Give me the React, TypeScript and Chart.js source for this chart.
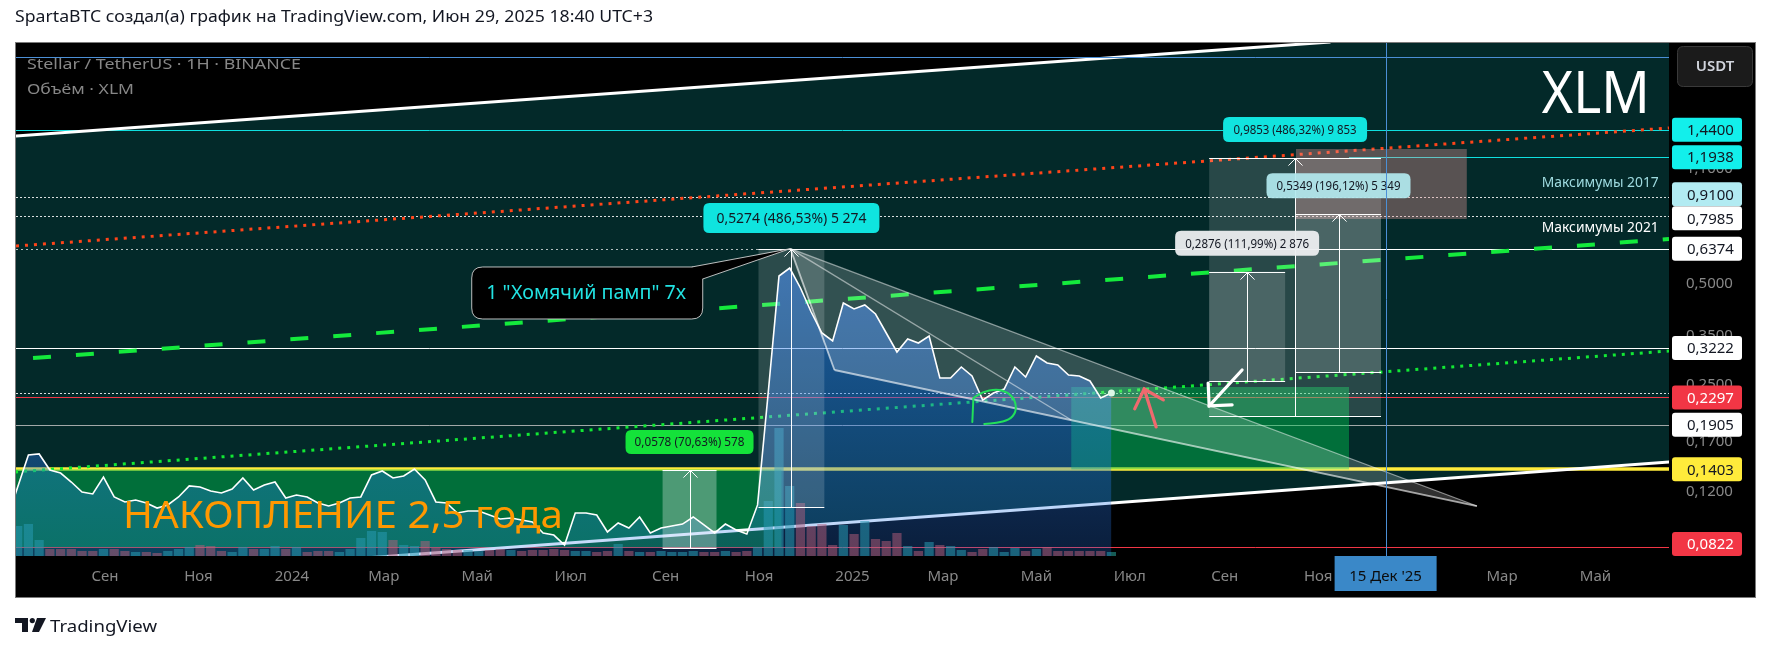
import React, { useEffect, useRef } from "react";
import { Chart, registerables } from "chart.js";

Chart.register(...registerables);

const W = 1771;
const H = 652;
const FONT = '"Noto Sans", "DejaVu Sans", sans-serif';

const TITLE = "SpartaBTC создал(а) график на TradingView.com, Июн 29, 2025 18:40 UTC+3";
const SYMBOL_LINE = "Stellar / TetherUS · 1H · BINANCE";
const VOLUME_LINE = "Объём · XLM";

// ---------- time axis: days since 2023-07-01 ----------
const X_MIN = 3.9;
const X_MAX = 1083;
const monthTickDays = [62, 123, 184, 244, 305, 366, 428, 489, 550, 609, 670, 731, 793, 854, 915, 974, 1035];
const monthTickLabels = ["Сен", "Ноя", "2024", "Мар", "Май", "Июл", "Сен", "Ноя", "2025", "Мар", "Май", "Июл", "Сен", "Ноя", "2026", "Мар", "Май"];

// ---------- price axis (log) ----------
const Y_MIN = 0.07743;
const Y_MAX = 2.6123;
const priceTickValues = [0.12, 0.17, 0.25, 0.35, 0.5, 1.1, 1.5];

// ---------- weekly series ----------
const FIRST_WEEK_DAY = -2;
const WEEK_DAYS = 7;
const weeklyClose = [
  0.0991,
  0.1243, 0.1548, 0.1559, 0.1397, 0.1368, 0.1286, 0.1201, 0.1185, 0.1331, 0.1161,
  0.1122, 0.1137, 0.1114, 0.1076, 0.1099, 0.1161, 0.1252, 0.1243, 0.1209, 0.1193,
  0.1226, 0.1322, 0.1218, 0.1260, 0.1286, 0.1153, 0.1177, 0.1161, 0.1114, 0.1091,
  0.1114, 0.1153, 0.1161, 0.1350, 0.1387, 0.1322, 0.1340, 0.1406, 0.1304, 0.1122,
  0.1114, 0.1040, 0.1054, 0.1054, 0.1026, 0.0998, 0.1005, 0.0991, 0.0978, 0.0907,
  0.0894, 0.0835, 0.1040, 0.1040, 0.1026, 0.0913, 0.0971, 0.0938, 0.1012, 0.0907,
  0.0938, 0.0951, 0.0964, 0.1012, 0.0958, 0.0907, 0.0964, 0.0926, 0.0900, 0.1099,
  0.2385, 0.5284, 0.5582, 0.4867, 0.4128, 0.3574, 0.3383, 0.4391, 0.4214, 0.4331,
  0.4072, 0.3574, 0.3138, 0.3430, 0.3337, 0.3502, 0.2625, 0.2625, 0.2831, 0.2662,
  0.2258, 0.2369, 0.2434, 0.2831, 0.2643, 0.3053, 0.2910, 0.2870, 0.2680, 0.2662,
  0.2572, 0.2289, 0.2369,
];
const weeklyVolume = [
  200,
  300, 320, 160, 70, 70, 70, 50, 50, 70, 70,
  50, 40, 40, 30, 50, 70, 90, 110, 100, 50,
  40, 90, 70, 70, 100, 70, 90, 40, 50, 50,
  40, 70, 180, 250, 240, 160, 110, 100, 150, 80,
  70, 60, 60, 50, 60, 70, 60, 50, 60, 60,
  70, 60, 50, 50, 40, 50, 120, 50, 40, 40,
  50, 40, 40, 50, 40, 40, 50, 40, 50, 90,
  550, 1280, 700, 530, 300, 320, 110, 310, 220, 350,
  170, 150, 230, 100, 50, 140, 110, 100, 60, 40,
  70, 90, 40, 80, 50, 70, 90, 50, 50, 50,
  50, 50, 40,
];
const VOL_MAX = 5130;

// ---------- drawn trend lines: [day, price] ----------
const channelTop = [[0, 1.376], [862, 2.63]];
const channelBottom = [[189, 0.0739], [1102, 0.1497]];
const resistanceDotted = [[3.9, 0.6492], [1083, 1.4582]];
const midDashed = [[3.3, 0.2982], [1083, 0.6811]];
const supportDotted = [[3.3, 0.1378], [1083, 0.3159]];

// ---------- horizontal levels ----------
const cyanLevels = [1.44, 1.1938];
const CYAN_RAY_FROM = 874.1;
const maximaLevels = [0.91, 0.7985];
const PEAK_LEVEL = 0.6374;
const PEAK_RAY_FROM = 488.6;
const RESIST_LEVEL = 0.3222;
const LAST_CLOSE_LEVEL = 0.2369;
const LAST_PRICE = 0.2297;
const SUPPORT_LEVEL = 0.1905;
const ACC_TOP = 0.1403;
const ACC_LOW = 0.0822;
const axisLabelPrices = [1.44, 1.1938, 0.91, 0.7985, 0.6374, 0.3222, 0.2297, 0.1905, 0.1403, 0.0822];
const axisLabelBg = ["#12efeb", "#12efeb", "#b2ebf2", "#ffffff", "#ffffff", "#ffffff", "#f23645", "#ffffff", "#ffeb3b", "#f23645"];
const axisLabelFg = ["#131722", "#131722", "#131722", "#131722", "#131722", "#131722", "#ffffff", "#131722", "#131722", "#ffffff"];

// ---------- zones ----------
const greenZoneDays = [[3.3, 503.6], [692.8, 874.1]];
const greenZonePrices = [[0.0822, 0.1403], [0.1403, 0.2468]];
const targetZoneDays = [839.5, 951.0];
const targetZonePrices = [0.7812, 1.2626];

// ---------- falling wedge ----------
const wedgePeak = [509.4, 0.6374];
const wedgeLowTurn = [538.2, 0.2773];
const wedgeMid = [692.8, 0.1968];
const wedgeApex = [957.6, 0.1091];

// ---------- price range measurements ----------
const rangeDays = [[488.6, 531.6], [426.0, 461.2], [782.8, 895.0], [839.5, 895.0], [782.8, 832.4]];
const rangePrices = [[0.1084, 0.6358], [0.0818, 0.1396], [0.2026, 1.1879], [0.2727, 0.8076], [0.2568, 0.5444]];
const rangeLabels = ["0,5274 (486,53%) 5 274", "0,0578 (70,63%) 578", "0,9853 (486,32%) 9 853", "0,5349 (196,12%) 5 349", "0,2876 (111,99%) 2 876"];
const rangeLabelBg = ["#0fe4df", "#14e23a", "#11e4df", "rgba(178,232,238,0.93)", "rgba(236,238,240,0.95)"];
const rangeBoxAlpha = [0.16, 0.3, 0.15, 0.16, 0.16];
const rangeLabelBox = [[176, 30, 150, 14], [128, 24, 110, 12], [144, 25, 123, 12], [144, 25, 124, 12], [144, 25, 124, 12]];

// ---------- arrows & marks ----------
const whiteArrow = [[804.3, 0.2773], [782.8, 0.2167]];
const pinkArrow = [[748.2, 0.1876], [740.4, 0.2434]];
const greenLoop = [[628.2, 0.1941], [628.9, 0.2289], [634.7, 0.2385], [643.9, 0.2434], [651.0, 0.2385], [656.2, 0.2258], [656.9, 0.2079], [652.3, 0.1968], [643.9, 0.1928], [636.0, 0.1915]];

// ---------- texts ----------
const CALLOUT_TEXT = '1 "Хомячий памп" 7x';
const calloutAnchor = [301.4, 0.5621];
const ACC_TEXT = "НАКОПЛЕНИЕ 2,5 года";
const accTextAnchor = [73.7, 0.0938];
const maximaTexts = ["Максимумы 2017", "Максимумы 2021"];
const maximaTextPrices = [1.0, 0.7345];
const MAXIMA_TEXT_DAY = 1076.3;
const XLM_TEXT = "XLM";
const xlmAnchor = [1000, 1.616];
const CROSS_DAY = 898;
const CROSS_PRICE = 2.373;
const CROSS_LABEL = "15 Дек '25";

// ---------- helpers ----------
function rr(c: any, x: number, y: number, w: number, h: number, r: number) {
  c.beginPath();
  c.moveTo(x + r, y);
  c.lineTo(x + w - r, y);
  c.quadraticCurveTo(x + w, y, x + w, y + r);
  c.lineTo(x + w, y + h - r);
  c.quadraticCurveTo(x + w, y + h, x + w - r, y + h);
  c.lineTo(x + r, y + h);
  c.quadraticCurveTo(x, y + h, x, y + h - r);
  c.lineTo(x, y + r);
  c.quadraticCurveTo(x, y, x + r, y);
  c.closePath();
}

function fitText(c: any, text: string, x: number, y: number, width: number, font: string, color: string, align = "left", baseline = "alphabetic") {
  c.save();
  c.font = font;
  c.fillStyle = color;
  c.textAlign = "left";
  c.textBaseline = baseline;
  const m = c.measureText(text).width || 1;
  const s = width / m;
  const x0 = align === "left" ? x : align === "right" ? x - width : x - width / 2;
  c.translate(x0, y);
  c.scale(s, 1);
  c.fillText(text, 0, 0);
  c.restore();
}

function arrowHead(c: any, tx: number, ty: number, fx: number, fy: number, len: number, spread: number) {
  const ang = Math.atan2(fy - ty, fx - tx);
  c.beginPath();
  c.moveTo(tx + len * Math.cos(ang - spread), ty + len * Math.sin(ang - spread));
  c.lineTo(tx, ty);
  c.lineTo(tx + len * Math.cos(ang + spread), ty + len * Math.sin(ang + spread));
  c.stroke();
}

function lineYAt(X: any, Y: any, seg: number[][], xpx: number) {
  const x1 = X(seg[0][0]), y1 = Y(seg[0][1]), x2 = X(seg[1][0]), y2 = Y(seg[1][1]);
  return y1 + ((y2 - y1) * (xpx - x1)) / (x2 - x1);
}

function mappers(chart: any) {
  const X = (d: number) => chart.scales.x.getPixelForValue(d);
  const Y = (p: number) => chart.scales.y.getPixelForValue(p);
  const P = (pt: number[]) => [X(pt[0]), Y(pt[1])];
  return { X, Y, P };
}

function clipArea(c: any, a: any) {
  c.beginPath();
  c.rect(a.left, a.top, a.right - a.left, a.bottom - a.top);
  c.clip();
}

const overlayPlugin = {
  id: "xlmOverlay",
  beforeDraw(chart: any) {
    const c = chart.ctx;
    const a = chart.chartArea;
    const { X, Y } = mappers(chart);
    c.save();
    c.fillStyle = "#ffffff";
    c.fillRect(0, 0, W, H);
    c.fillStyle = "#000000";
    c.fillRect(15, 42, 1741, 556);
    c.save();
    clipArea(c, a);
    const xl = a.left - 5, xr = a.right + 5;
    c.beginPath();
    c.moveTo(xl, lineYAt(X, Y, channelTop, xl));
    c.lineTo(xr, lineYAt(X, Y, channelTop, xr));
    c.lineTo(xr, lineYAt(X, Y, channelBottom, xr));
    c.lineTo(xl, lineYAt(X, Y, channelBottom, xl));
    c.closePath();
    c.fillStyle = "#032929";
    c.fill();
    c.restore();
    c.strokeStyle = "#7a7a7a";
    c.lineWidth = 1;
    c.strokeRect(15.5, 42.5, 1740, 555);
    fitText(c, TITLE, 15, 22, 638, `16px ${FONT}`, "#131722");
    c.fillStyle = "#131722";
    c.beginPath();
    c.moveTo(15, 618); c.lineTo(28, 618); c.lineTo(28, 632); c.lineTo(22, 632); c.lineTo(22, 623); c.lineTo(15, 623);
    c.closePath(); c.fill();
    c.beginPath(); c.arc(32.3, 620.6, 2.6, 0, Math.PI * 2); c.fill();
    c.beginPath();
    c.moveTo(37, 618); c.lineTo(46, 618); c.lineTo(39, 632); c.lineTo(32, 632);
    c.closePath(); c.fill();
    fitText(c, "TradingView", 50, 632, 107, `17px ${FONT}`, "#131722");
    c.restore();
  },
  beforeDatasetsDraw(chart: any) {
    const c = chart.ctx;
    const a = chart.chartArea;
    const { X, Y } = mappers(chart);
    c.save();
    clipArea(c, a);
    const hl = (p: number, color: string, w: number, dash: number[] = [], fromDay?: number) => {
      const y = Math.round(Y(p)) + (w % 2 === 1 ? 0.5 : 0);
      c.beginPath();
      c.setLineDash(dash);
      c.strokeStyle = color;
      c.lineWidth = w;
      c.moveTo(fromDay !== undefined ? X(fromDay) : a.left, y);
      c.lineTo(a.right, y);
      c.stroke();
    };
    const dotted = "rgba(255,255,255,0.85)";
    hl(cyanLevels[0], "#0fe0e0", 1);
    hl(cyanLevels[1], "#0fe0e0", 1, [], CYAN_RAY_FROM);
    maximaLevels.forEach((p) => hl(p, dotted, 1, [2, 2]));
    hl(PEAK_LEVEL, "rgba(255,255,255,0.7)", 1, [2, 3]);
    hl(PEAK_LEVEL, "#ffffff", 1, [], PEAK_RAY_FROM);
    hl(RESIST_LEVEL, "#ffffff", 1);
    hl(LAST_CLOSE_LEVEL, dotted, 1, [2, 2]);
    hl(LAST_PRICE, "#f23645", 1);
    hl(SUPPORT_LEVEL, "rgba(190,190,190,0.85)", 1);
    hl(ACC_TOP, "#ffeb3b", 3.5);
    hl(ACC_LOW, "#f23645", 1);
    c.setLineDash([]);
    greenZoneDays.forEach(([d0, d1], i) => {
      const x0 = X(d0), x1 = X(d1);
      const y0 = Y(greenZonePrices[i][1]), y1 = Y(greenZonePrices[i][0]);
      c.fillStyle = "rgba(0,200,80,0.44)";
      c.fillRect(x0, y0, x1 - x0, y1 - y0);
    });
    c.restore();
  },
  afterDatasetsDraw(chart: any) {
    const c = chart.ctx;
    const a = chart.chartArea;
    const { X, Y, P } = mappers(chart);
    c.save();
    clipArea(c, a);
    const seg = (p: number[], q: number[]) => {
      c.beginPath();
      c.moveTo(p[0], p[1]);
      c.lineTo(q[0], q[1]);
      c.stroke();
    };
    const pk = P(wedgePeak), lt = P(wedgeLowTurn), md = P(wedgeMid), ap = P(wedgeApex);
    c.fillStyle = "rgba(255,255,255,0.19)";
    c.beginPath(); c.moveTo(pk[0], pk[1]); c.lineTo(ap[0], ap[1]); c.lineTo(md[0], md[1]); c.closePath(); c.fill();
    c.beginPath(); c.moveTo(pk[0], pk[1]); c.lineTo(lt[0], lt[1]); c.lineTo(md[0], md[1]); c.closePath(); c.fill();
    c.lineWidth = 1.3;
    c.strokeStyle = "rgba(255,255,255,0.5)";
    seg(pk, ap);
    seg(pk, md);
    c.lineWidth = 1.8;
    c.strokeStyle = "rgba(255,255,255,0.62)";
    seg(pk, lt);
    seg(lt, ap);

    {
      const x0 = X(targetZoneDays[0]), x1 = X(targetZoneDays[1]);
      const y0 = Y(targetZonePrices[1]), y1 = Y(targetZonePrices[0]);
      c.fillStyle = "rgba(230,150,150,0.38)";
      c.fillRect(x0, y0, x1 - x0, y1 - y0);
    }
    const boxes = rangeDays.map(([d0, d1], i) => ({
      x0: X(d0), x1: X(d1), yT: Y(rangePrices[i][1]), yB: Y(rangePrices[i][0]),
    }));
    boxes.forEach((b, i) => {
      c.fillStyle = `rgba(255,255,255,${rangeBoxAlpha[i]})`;
      c.fillRect(b.x0, b.yT, b.x1 - b.x0, b.yB - b.yT);
    });
    c.strokeStyle = "#ffffff";
    c.lineWidth = 1;
    boxes.forEach((b) => {
      const yT = Math.round(b.yT) + 0.5, yB = Math.round(b.yB) + 0.5;
      seg([b.x0, yT], [b.x1, yT]);
      seg([b.x0, yB], [b.x1, yB]);
      const xm = Math.round((b.x0 + b.x1) / 2) + 0.5;
      seg([xm, yB], [xm, yT]);
      arrowHead(c, xm, yT, xm, yB, 10, 0.78);
    });

    c.lineCap = "round";
    c.lineWidth = 3.2;
    c.strokeStyle = "#ffffff";
    {
      const t = P(whiteArrow[0]), h = P(whiteArrow[1]);
      seg(t, h);
      arrowHead(c, h[0], h[1], t[0], t[1], 23, 0.785);
    }
    c.strokeStyle = "#f0696e";
    {
      const t = P(pinkArrow[0]), h = P(pinkArrow[1]);
      seg(t, h);
      arrowHead(c, h[0], h[1], t[0], t[1], 22, 0.75);
    }
    {
      const pts = greenLoop.map(P);
      c.beginPath();
      c.moveTo(pts[0][0], pts[0][1]);
      c.lineTo(pts[1][0], pts[1][1]);
      for (let i = 1; i < pts.length - 1; i++) {
        const mx = (pts[i][0] + pts[i + 1][0]) / 2, my = (pts[i][1] + pts[i + 1][1]) / 2;
        c.quadraticCurveTo(pts[i][0], pts[i][1], mx, my);
      }
      c.lineTo(pts[pts.length - 1][0], pts[pts.length - 1][1]);
      c.strokeStyle = "#22e05a";
      c.lineWidth = 2;
      c.lineJoin = "round";
      c.stroke();
    }
    c.lineCap = "butt";

    {
      const [bx, by] = P(calloutAnchor);
      const bw = 231, bh = 52;
      rr(c, bx, by, bw, bh, 11);
      c.fillStyle = "#000000";
      c.fill();
      c.strokeStyle = "rgba(220,220,220,0.85)";
      c.lineWidth = 1;
      c.stroke();
      const p1 = [bx + bw - 11, by], p2 = [bx + bw, by + 12];
      c.beginPath(); c.moveTo(p1[0], p1[1]); c.lineTo(pk[0], pk[1]); c.lineTo(p2[0], p2[1]); c.closePath();
      c.fill();
      c.beginPath(); c.moveTo(p1[0], p1[1]); c.lineTo(pk[0], pk[1]); c.lineTo(p2[0], p2[1]); c.stroke();
      fitText(c, CALLOUT_TEXT, bx + bw / 2 - 1, by + bh / 2 + 1, 200, `19px ${FONT}`, "#22e2e2", "center", "middle");
    }

    boxes.forEach((b, i) => {
      const [bw, bh, tw, fs] = rangeLabelBox[i];
      const cx = (b.x0 + b.x1) / 2;
      const cy = b.yT - 16 - bh / 2;
      rr(c, cx - bw / 2, cy - bh / 2, bw, bh, 6);
      c.fillStyle = rangeLabelBg[i];
      c.fill();
      fitText(c, rangeLabels[i], cx, cy + 1, tw, `${fs}px ${FONT}`, "#131722", "center", "middle");
    });

    {
      const [tx, ty] = P(accTextAnchor);
      fitText(c, ACC_TEXT, tx, ty, 440, `39px ${FONT}`, "#ff9800");
    }
    maximaTexts.forEach((t, i) => {
      fitText(c, t, X(MAXIMA_TEXT_DAY), Y(maximaTextPrices[i]), 117, `15px ${FONT}`, i === 0 ? "#9fdbe0" : "#ffffff", "right", "middle");
    });
    {
      const [tx, ty] = P(xlmAnchor);
      fitText(c, XLM_TEXT, tx, ty, 108, `58px ${FONT}`, "#ffffff");
    }

    c.strokeStyle = "#4b8fd6";
    c.lineWidth = 1;
    const cxp = Math.round(X(CROSS_DAY)) + 0.5;
    const cyp = Math.round(Y(CROSS_PRICE)) + 0.5;
    seg([cxp, a.top], [cxp, a.bottom]);
    seg([a.left, cyp], [a.right, cyp]);
    c.restore();
  },
  afterDraw(chart: any) {
    const c = chart.ctx;
    const a = chart.chartArea;
    const { X, Y } = mappers(chart);
    c.save();
    const items = axisLabelPrices.map((p, i) => ({ p, i, cy: Y(p) }));
    items.sort((u, v) => u.cy - v.cy);
    const LH = 24;
    for (let k = 1; k < items.length; k++) {
      const gap = items[k].cy - items[k - 1].cy;
      if (gap < LH) {
        const d = (LH - gap) / 2;
        items[k - 1].cy -= d;
        items[k].cy += d;
      }
    }
    items.forEach((it) => {
      if (it.cy > a.bottom - LH / 2) it.cy = a.bottom - LH / 2;
    });
    items.forEach((it) => {
      rr(c, a.right + 3, it.cy - LH / 2, 70, LH, 3);
      c.fillStyle = axisLabelBg[it.i];
      c.fill();
      c.font = `15px ${FONT}`;
      c.fillStyle = axisLabelFg[it.i];
      c.textAlign = "left";
      c.textBaseline = "middle";
      c.fillText(it.p.toFixed(4).replace(".", ","), a.right + 18, it.cy + 1);
    });
    rr(c, 1677.5, 46.5, 75, 40, 6);
    c.fillStyle = "#1b1b1b";
    c.fill();
    c.strokeStyle = "#3a3a3a";
    c.lineWidth = 1;
    c.stroke();
    c.font = `600 15px ${FONT}`;
    c.fillStyle = "#d1d4dc";
    c.textAlign = "center";
    c.textBaseline = "middle";
    c.fillText("USDT", 1715, 67);
    const tx = X(CROSS_DAY);
    c.fillStyle = "#3a88c8";
    c.fillRect(tx - 51, a.bottom, 102, 35);
    c.font = `15px ${FONT}`;
    c.fillStyle = "#0c0c0c";
    c.fillText(CROSS_LABEL, tx, a.bottom + 21);
    fitText(c, SYMBOL_LINE, 27, 69, 274, `15px ${FONT}`, "#878787");
    fitText(c, VOLUME_LINE, 27, 94, 107, `15px ${FONT}`, "#878787");
    c.restore();
  },
};

export default function App() {
  const ref = useRef<HTMLCanvasElement | null>(null);
  useEffect(() => {
    const canvas = ref.current;
    if (!canvas) return;
    const dayOf = (i: number) => FIRST_WEEK_DAY + i * WEEK_DAYS;
    const priceData = weeklyClose.map((v, i) => ({ x: dayOf(i), y: v }));
    const volData = weeklyVolume.map((v, i) => ({ x: dayOf(i), y: v }));
    const volColors = weeklyClose.map((v, i) =>
      i === 0 || v >= weeklyClose[i - 1] ? "rgba(38,166,154,0.55)" : "rgba(239,83,80,0.5)"
    );
    const toXY = (seg: number[][]) => seg.map(([x, y]) => ({ x, y }));
    const lastIdx = weeklyClose.length - 1;
    const trend = (data: number[][], color: string, width: number, dash: number[], dashOffset = 0) => ({
      type: "line",
      data: toXY(data),
      borderColor: color,
      borderWidth: width,
      borderDash: dash,
      borderDashOffset: dashOffset,
      pointRadius: 0,
      fill: false,
      order: 10,
      clip: 0,
    });
    const chart = new Chart(canvas, {
      type: "line",
      data: {
        datasets: [
          trend(channelTop, "#ffffff", 3, []),
          trend(channelBottom, "#ffffff", 3, []),
          trend(resistanceDotted, "#ff4419", 3, [3, 6]),
          trend(midDashed, "#14ea3c", 4, [18, 25], 25),
          trend(supportDotted, "#12e834", 3, [3, 6]),
          {
            type: "bar",
            data: volData,
            yAxisID: "v",
            backgroundColor: volColors,
            barPercentage: 0.86,
            categoryPercentage: 1,
            grouped: false,
            order: 5,
            clip: 0,
          },
          {
            type: "line",
            data: priceData,
            borderColor: "#ffffff",
            borderWidth: 1.6,
            fill: "start",
            backgroundColor: (ctx: any) => {
              const ch = ctx.chart;
              const ar = ch.chartArea;
              if (!ar) return "rgba(45,128,245,0.4)";
              const g = ch.ctx.createLinearGradient(0, ar.top, 0, ar.bottom);
              g.addColorStop(0, "rgba(50,130,245,0.9)");
              g.addColorStop(0.45, "rgba(45,125,240,0.6)");
              g.addColorStop(1, "rgba(40,120,235,0.25)");
              return g;
            },
            pointRadius: (ctx: any) => (ctx.dataIndex === lastIdx ? 3.5 : 0),
            pointBackgroundColor: "#d4f5df",
            pointBorderColor: "#d4f5df",
            pointBorderWidth: 0,
            tension: 0,
            order: 1,
            clip: 0,
          },
        ],
      },
      options: {
        responsive: false,
        maintainAspectRatio: false,
        animation: false,
        devicePixelRatio: 1,
        events: [],
        layout: { padding: { left: 16, top: 43, right: 0, bottom: 0 } },
        plugins: { legend: { display: false }, tooltip: { enabled: false } },
        scales: {
          x: {
            type: "linear",
            position: "bottom",
            offset: false,
            min: X_MIN,
            max: X_MAX,
            bounds: "data",
            grid: { display: false, drawTicks: false, offset: false },
            border: { display: false },
            afterFit: (s: any) => { s.height = 96; },
            afterBuildTicks: (s: any) => { s.ticks = monthTickDays.map((v) => ({ value: v })); },
            ticks: {
              autoSkip: false,
              maxRotation: 0,
              minRotation: 0,
              padding: 12,
              color: "#888888",
              font: { family: FONT, size: 15 },
              callback: (v: any) => {
                const i = monthTickDays.indexOf(Number(v));
                return i >= 0 ? monthTickLabels[i] : "";
              },
            },
          },
          y: {
            type: "logarithmic",
            position: "right",
            min: Y_MIN,
            max: Y_MAX,
            bounds: "data",
            grid: { display: false, drawTicks: false },
            border: { display: false },
            afterFit: (s: any) => { s.width = 102; },
            afterBuildTicks: (s: any) => { s.ticks = priceTickValues.map((v) => ({ value: v })); },
            ticks: {
              padding: 17,
              color: "#888888",
              font: { family: FONT, size: 15 },
              callback: (v: any) => Number(v).toFixed(4).replace(".", ","),
            },
          },
          v: { type: "linear", display: false, min: 0, max: VOL_MAX, position: "left" },
        },
      },
      plugins: [overlayPlugin],
    } as any);
    return () => chart.destroy();
  }, []);
  return (
    <div style={{ position: "absolute", left: 0, top: 0, width: W, height: H, background: "#ffffff" }}>
      <canvas ref={ref} width={W} height={H} style={{ display: "block", width: W, height: H }} />
    </div>
  );
}
